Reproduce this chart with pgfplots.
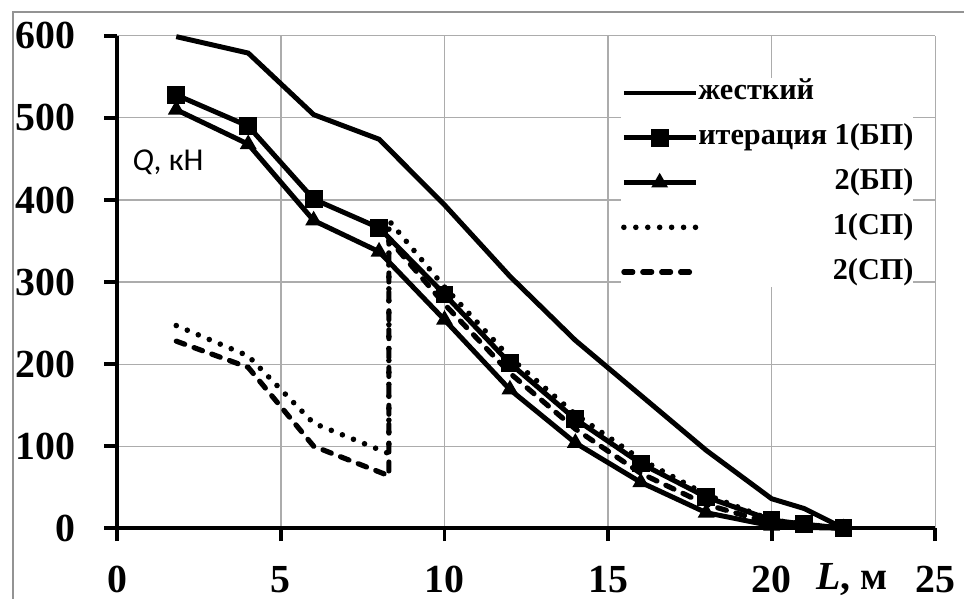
\documentclass[border=0pt]{standalone}
\usepackage{pgfplots}
\pgfplotsset{compat=1.18}
\usepackage{fontspec}
\setmainfont{Liberation Serif}
\newfontfamily\calib{Carlito}
\begin{document}
\newlength\legw
\settowidth\legw{\fontsize{15.2}{18}\selectfont\bfseries итерация 1(БП)}
\begin{tikzpicture}
\path[use as bounding box] (-56.5pt,-35.5pt) rectangle (425.5pt,265.5pt);
\draw[gray!85, line width=1pt] (-52.5pt,-40pt) -- (-52.5pt,259.5pt) -- (430pt,259.5pt);
\begin{axis}[
  scale only axis, width=411pt, height=247.5pt,
  xmin=0, xmax=25, ymin=0, ymax=600,
  xtick={0,5,...,25}, ytick={0,100,...,600},
  axis x line=bottom, axis y line=left,
  axis line style={-, black, line width=2pt},
  grid=major, grid style={gray!65, line width=0.6pt},
  tick align=outside, major tick length=6.5pt,
  tick style={black, line width=2pt},
  /pgf/number format/assume math mode=true,
  ticklabel style={font=\fontsize{20}{24}\selectfont\bfseries},
  yticklabel style={xshift=-11pt},
  xticklabel style={yshift=-9pt},
  clip=false,
  legend style={draw=none, fill=white, at={(0.974,0.915)}, anchor=north east,
    inner sep=0pt, row sep=7.5pt,
    font=\fontsize{15.2}{18}\selectfont\bfseries,
    nodes={inner sep=0pt, text height=11pt, text depth=4pt}},
  legend cell align=right,
  legend image code/.code={\draw[mark repeat=2,mark phase=2,#1] plot coordinates {(0pt,0pt) (18pt,0pt) (36pt,0pt)};},
  solidl/.style={black, line width=2.5pt},
  dotl/.style={black, line width=2.8pt, line cap=round, dash pattern=on 0pt off 6pt},
  dashl/.style={black, line width=2.6pt, line cap=round, dash pattern=on 4.5pt off 5pt},
]
\addplot[solidl] coordinates {(1.8,599) (4,579) (6,504) (8,474) (10,394) (12,307) (14,229) (16,162) (18,95) (20,36) (21,24) (22.2,0)};
\addlegendentry{\makebox[\legw][l]{жесткий}}
\addplot[solidl, mark=square*, mark size=3.2pt, mark options={solid}] coordinates {(1.8,528) (4,490) (6,401) (8,366) (10,285) (12,201) (14,133) (16,79) (18,38) (20,10) (21,5) (22.2,0)};
\addlegendentry{итерация 1(БП)}
\addplot[solidl, mark=triangle*, mark size=2.4pt, mark options={solid}] coordinates {(1.8,510) (4,468) (6,375) (8,337) (10,254) (12,169) (14,104) (16,56) (18,19) (20,3) (21,1) (22.2,0)};
\addlegendentry{2(БП)}
\addplot[dotl] coordinates {(1.8,247) (4,210) (6,128) (8.3,91) (8.3,375) (10,294) (12,208) (14,139) (16,84) (18,41) (20,10) (21,5) (22.2,0)};
\addlegendentry{1(СП)}
\addplot[dashl] coordinates {(1.8,228) (4,196) (6,100) (8.3,64) (8.3,352) (10,273) (12,189) (14,121) (16,67) (18,29) (20,6) (21,3) (22.2,0)};
\addlegendentry{2(СП)}
\node[anchor=west, inner sep=0pt, font=\calib\fontsize{16}{18}\selectfont] at (axis cs:0.45,446) {\textit{Q}, кН};
\node[font=\fontsize{20}{24}\selectfont\bfseries] at (axis cs:22.45,0) [yshift=-26pt] {\textit{L}, м};
\end{axis}
\end{tikzpicture}
\end{document}
